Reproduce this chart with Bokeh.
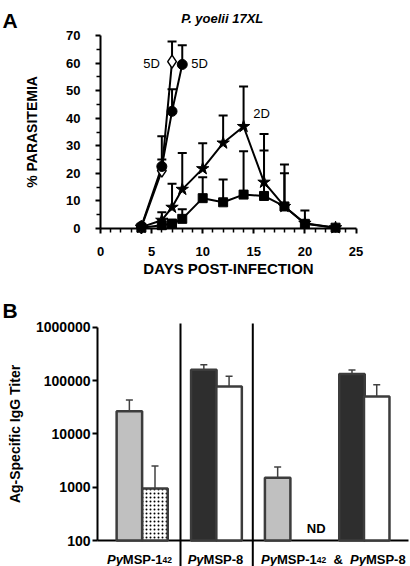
import math
from bokeh.plotting import figure
from bokeh.layouts import column
from bokeh.models import FixedTicker, Range1d
from bokeh.core.properties import value
from bokeh.embed import file_html
from bokeh.resources import INLINE

FONT = "Liberation Sans"
NAN = float("nan")

# ---------------- Panel A data ----------------
days_circle = [4, 6, 7, 8]
pct_circle = [0.8, 22.5, 42.5, 59.5]
top_circle = [NAN, 33.5, 50.5, 66.5]

days_diamond = [4, 6, 7]
pct_diamond = [0.5, 21.0, 60.5]
top_diamond = [NAN, 25.0, 67.8]

days_long = [4, 6, 7, 8, 10, 12, 14, 16, 18, 20, 23]
pct_star = [0.5, 3.0, 7.7, 14.2, 21.7, 31.0, 37.0, 16.8, 8.0, 1.9, 0.3]
top_star = [NAN, 5.9, 16.2, 27.4, 30.9, 41.0, 51.5, 34.3, 23.2, 6.5, NAN]
pct_square = [0.3, 1.2, 1.8, 3.5, 11.0, 9.5, 12.3, 11.8, 8.0, 1.7, 0.3]
top_square = [NAN, NAN, NAN, 7.0, 18.6, 17.8, 28.0, 28.3, 20.0, NAN, NAN]

notes_text = ["5D", "5D", "2D"]
notes_day = [5.0, 9.7, 15.75]
notes_pct = [59.8, 59.8, 41.7]

x_major = [0, 5, 10, 15, 20, 25]
x_minor = [d for d in range(1, 25) if d % 5]
y_major = [0, 10, 20, 30, 40, 50, 60, 70]
y_minor = [5, 15, 25, 35, 45, 55, 65]

title_a = "P. yoelii 17XL"
x_title_a = "DAYS POST-INFECTION"
y_title_a = "% PARASITEMIA"

# ---------------- Panel B data ----------------
bar_x = [1.25, 2.255, 4.17, 5.16, 7.065, 9.98, 10.95]
bar_titer = [26500, 950, 160000, 77000, 1500, 133000, 50000]
bar_err_top = [43000, 2500, 197000, 120000, 2400, 158000, 83000]
bar_fill = ["#c0c0c0", "#ffffff", "#2e2e2e", "#ffffff", "#c0c0c0", "#2e2e2e", "#ffffff"]
bar_hatch = [" ", "dot", " ", " ", " ", " ", " "]
separators_x = [3.255, 6.09]
nd_x = 8.576
group_centers = [1.647, 4.627, 9.25]
group_labels = [
    [("Py", "bold italic", 0), ("MSP-1", "bold", 0), ("42", "bold", 1)],
    [("Py", "bold italic", 0), ("MSP-8", "bold", 0)],
    [("Py", "bold italic", 0), ("MSP-1", "bold", 0), ("42", "bold", 1),
     ("  ", "bold", 0), ("&", "bold", 0), ("  ", "bold", 0),
     ("Py", "bold italic", 0), ("MSP-8", "bold", 0)],
]
titer_ticks = [100, 1000, 10000, 100000, 1000000]
titer_tick_labels = ["100", "1000", "10000", "100000", "1000000"]
y_title_b = "Ag-Specific IgG Titer"

# ---------------- layout geometry (pixels) ----------------
W = 410
HA = 283
HB = 566 - HA

A_X0, A_PPD = 100.0, 10.22          # pixel of day 0, pixels per day
A_Y0, A_PPU = 228.0, 193.0 / 70.0    # pixel of 0 %, pixels per %


def a_day(px):
    return (px - A_X0) / A_PPD


def a_pct(py):
    return (A_Y0 - py) / A_PPU


B_X0, B_UNIT = 97.0, 25.5            # pixel of x=0, pixels per bar slot
B_Y6, B_PPDEC = 326.7, 53.33         # page pixel of 1e6, pixels per decade


def b_x(px):
    return (px - B_X0) / B_UNIT


def b_y(py_page):
    return 10 ** (6 - (py_page - B_Y6) / B_PPDEC)


def style_axis(ax, size):
    ax.axis_line_width = 2
    ax.axis_line_color = "black"
    ax.major_tick_line_width = 2
    ax.minor_tick_line_width = 1.5
    ax.major_tick_in = 0
    ax.minor_tick_in = 0
    ax.major_label_text_font = FONT
    ax.major_label_text_font_style = "bold"
    ax.major_label_text_font_size = size
    ax.major_label_text_color = "black"
    ax.axis_label_text_font = FONT
    ax.axis_label_text_font_style = "bold"
    ax.axis_label_text_color = "black"


# ---------------- Panel A ----------------
pA = figure(width=W, height=HA, x_range=Range1d(a_day(0), a_day(W)),
            y_range=Range1d(a_pct(HA), a_pct(0)), min_border=0,
            output_backend="svg", toolbar_location=None, tools="")
pA.grid.visible = False
pA.outline_line_color = None

xa = pA.xaxis[0]
style_axis(xa, "13px")
xa.ticker = FixedTicker(ticks=x_major, minor_ticks=x_minor)
xa.bounds = (0, 25)
xa.fixed_location = 0
xa.major_tick_out = 5
xa.minor_tick_out = 4
xa.major_label_standoff = 13
xa.axis_label = x_title_a
xa.axis_label_text_font_size = "15px"
xa.axis_label_standoff = 1

ya = pA.yaxis[0]
style_axis(ya, "13px")
ya.ticker = FixedTicker(ticks=y_major, minor_ticks=y_minor)
ya.bounds = (0, 70)
ya.fixed_location = 0
ya.major_tick_out = 5
ya.minor_tick_out = 4
ya.major_label_standoff = 15
ya.axis_label = y_title_a
ya.axis_label_text_font_size = "14px"
ya.axis_label_standoff = 23


def err_segments(days, means, tops, cap_half):
    x0, y0, x1, y1, cx0, cx1, cy = [], [], [], [], [], [], []
    for d, m, t in zip(days, means, tops):
        if math.isnan(t):
            continue
        x0.append(d); y0.append(m); x1.append(d); y1.append(t)
        cx0.append(d - cap_half); cx1.append(d + cap_half); cy.append(t)
    return x0, y0, x1, y1, cx0, cx1, cy


cap_a = 4.5 / A_PPD
for days, means, tops in [(days_circle, pct_circle, top_circle),
                          (days_diamond, pct_diamond, top_diamond),
                          (days_long, pct_star, top_star),
                          (days_long, pct_square, top_square)]:
    x0, y0, x1, y1, cx0, cx1, cy = err_segments(days, means, tops, cap_a)
    pA.segment(x0, y0, x1, y1, line_color="black", line_width=2)
    pA.segment(cx0, cy, cx1, cy, line_color="black", line_width=2)

pA.line(days_long, pct_square, line_color="black", line_width=2)
pA.line(days_long, pct_star, line_color="black", line_width=2)
pA.line(days_diamond, pct_diamond, line_color="black", line_width=2)
pA.line(days_circle, pct_circle, line_color="black", line_width=2)

pA.scatter(days_long, pct_square, marker="square", size=9, fill_color="black", line_color="black")
pA.scatter(days_long, pct_star, marker="star", size=13, fill_color="black", line_color="black")
pA.scatter(days_diamond, pct_diamond, marker="diamond", size=13, fill_color="white",
           line_color="black", line_width=1.5)
pA.scatter(days_circle, pct_circle, marker="circle", size=10, fill_color="black", line_color="black")

pA.text(notes_day, notes_pct, text=notes_text, text_align="center", text_baseline="middle",
        text_font=value(FONT), text_font_size="13px", text_color="black")

pA.text([a_day(221.7)], [a_pct(17.7)], text=[title_a], text_align="center",
        text_baseline="alphabetic", text_font=value(FONT), text_font_style="bold italic",
        text_font_size="13px", text_color="black")
pA.text([a_day(2)], [a_pct(20)], text=["A"], text_align="left", text_baseline="alphabetic",
        text_font=value(FONT), text_font_style="bold", text_font_size="21px", text_color="black")

# ---------------- Panel B ----------------
pB = figure(width=W, height=HB, x_range=Range1d(b_x(0), b_x(W)),
            y_range=Range1d(b_y(566), b_y(HA)), y_axis_type="log",
            x_axis_location=None, min_border=0,
            output_backend="svg", toolbar_location=None, tools="")
pB.grid.visible = False
pB.outline_line_color = None

yb = pB.yaxis[0]
style_axis(yb, "14px")
yb.ticker = FixedTicker(ticks=titer_ticks)
yb.major_label_overrides = {t: s for t, s in zip(titer_ticks, titer_tick_labels)}
yb.bounds = (titer_ticks[0], titer_ticks[-1])
yb.fixed_location = 0
yb.major_tick_out = 5
yb.minor_tick_out = 0
yb.major_label_standoff = 2
yb.axis_label = y_title_b
yb.axis_label_text_font_size = "14px"
yb.axis_label_standoff = 10

# section separators and base line at 100
sep_top = b_y(323)
pB.segment(separators_x, [sep_top] * len(separators_x), separators_x,
           [b_y(566)] * len(separators_x), line_color="black", line_width=2)
pB.segment([0], [titer_ticks[0]], [b_x(408)], [titer_ticks[0]], line_color="black", line_width=2)

half_w = 0.5
bars = dict(left=[x - half_w for x in bar_x], right=[x + half_w for x in bar_x],
            bottom=[titer_ticks[0]] * len(bar_x), top=bar_titer, fill=bar_fill, hatch=bar_hatch)
pB.quad(left="left", right="right", bottom="bottom", top="top", fill_color="fill",
        hatch_pattern="hatch", hatch_color="black", hatch_scale=4, hatch_weight=1,
        line_color="#3c3c3c", line_width=2.5, source=bars)

cap_b = 3.5 / B_UNIT
pB.segment(bar_x, bar_titer, bar_x, bar_err_top, line_color="#404040", line_width=1.5)
pB.segment([x - cap_b for x in bar_x], bar_err_top, [x + cap_b for x in bar_x], bar_err_top,
           line_color="#404040", line_width=1.5)

pB.text([nd_x], [b_y(527.5)], text=["ND"], text_align="center", text_baseline="middle",
        text_font=value(FONT), text_font_style="bold", text_font_size="13px", text_color="black")

# category labels with mixed styles (italic "Py", subscript "42")
CW = {"P": .667, "y": .556, "M": .833, "S": .667, "-": .333, "1": .556, "4": .556,
      "2": .556, "8": .556, " ": .278, "&": .722}
MAIN, SUB = 13.0, 8.5
BASE = 558.5
for cx, segs in zip(group_centers, group_labels):
    widths = [sum(CW[c] for c in t) * (SUB if sub else MAIN) for t, st, sub in segs]
    off = -sum(widths) / 2
    for (t, st, sub), w in zip(segs, widths):
        if t.strip():
            yy = b_y(BASE + (1 if sub else 0))
            pB.text([cx], [yy], text=[t], x_offset=off, text_align="left",
                    text_baseline="alphabetic", text_font=value(FONT), text_font_style=st,
                    text_font_size=f"{SUB if sub else MAIN}px", text_color="black")
        off += w

pB.text([b_x(2)], [b_y(310)], text=["B"], text_align="left", text_baseline="alphabetic",
        text_font=value(FONT), text_font_style="bold", text_font_size="21px", text_color="black")

layout = column(pA, pB, spacing=0)
open("out.html", "w").write(file_html(layout, INLINE))
